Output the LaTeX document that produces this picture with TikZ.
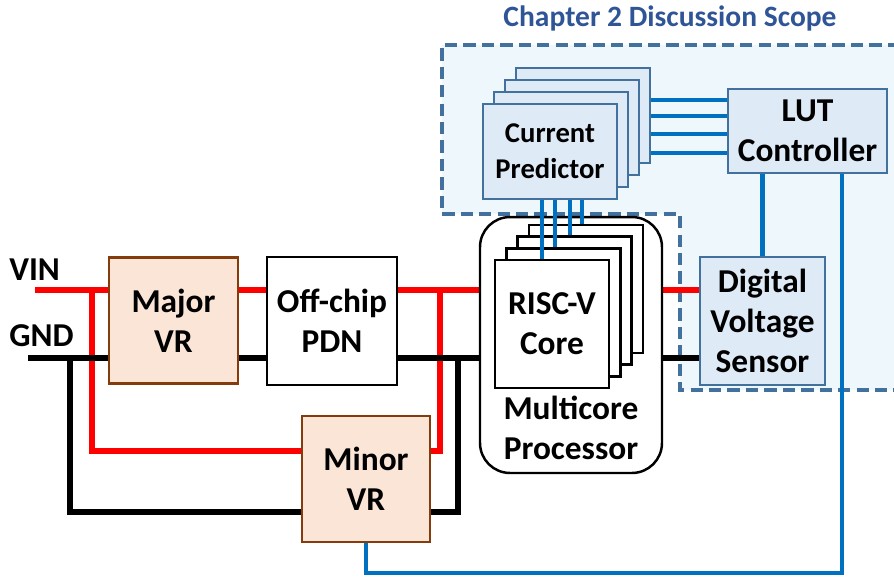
\documentclass[tikz,border=0pt]{standalone}
\usepackage{fontspec}
\setmainfont{Carlito}
\usetikzlibrary{positioning, calc}
\definecolor{vinred}{HTML}{FF0000}
\definecolor{sigblue}{HTML}{0070C0}
\definecolor{vrfill}{HTML}{FBE5D6}
\definecolor{vrbrown}{HTML}{843C0C}
\definecolor{ctlfill}{HTML}{DEEBF7}
\definecolor{ctledge}{HTML}{41719C}
\definecolor{zonefill}{HTML}{EEF7FC}
\definecolor{titleblue}{HTML}{2F5597}
\pgfdeclarelayer{zone}
\pgfdeclarelayer{wires}
\pgfsetlayers{zone,wires,main}

\begin{document}
\begin{tikzpicture}[x=0.02cm, y=-0.02cm,
    lbl/.style={font=\bfseries\fontsize{19}{22.8}\selectfont, align=center, inner sep=0pt},
    vrbox/.style={lbl, rectangle, draw=vrbrown, fill=vrfill, line width=1.4pt,
                  minimum width=2.58cm, minimum height=2.52cm},
    pdnbox/.style={lbl, rectangle, draw=black, fill=white, line width=1.4pt,
                   minimum width=2.6cm, minimum height=2.56cm},
    corebox/.style={pdnbox, minimum width=2.28cm},
    ctlbox/.style={lbl, rectangle, draw=ctledge, fill=ctlfill, line width=1.4pt},
    predbox/.style={ctlbox, minimum width=2.68cm, minimum height=1.9cm,
                    font=\bfseries\fontsize{16.3}{20.5}\selectfont},
    pwr/.style={line width=3.1pt, color=vinred},
    gndwire/.style={line width=3.1pt, color=black},
    sig/.style={line width=2.8pt, color=sigblue}
]
\useasboundingbox (0,0) rectangle (894,576);

% title and scope region
\node[font=\bfseries\fontsize{16.8}{20}\selectfont, text=titleblue] (title) at (670,18) {Chapter 2 Discussion Scope};
\begin{pgfonlayer}{zone}
\fill[zonefill] (442,45) -- (900,45) -- (900,390) -- (680,390) -- (680,214) -- (442,214) -- cycle;
\draw[ctledge, line width=2.3pt, dash pattern=on 7pt off 3.5pt]
    (900,45) -- (442,45) -- (442,214) -- (680,214) -- (680,390) -- (900,390);
\end{pgfonlayer}

% power blocks
\node[lbl, anchor=west] (vinlbl) at (9,270) {VIN};
\node[lbl, anchor=west] (gndlbl) at (9,336) {GND};
\node[vrbox] (major) at (173.5,320.5) {Major\\VR};
\node[pdnbox] (pdn) at (332,321) {Off-chip\\PDN};
\node[vrbox, minimum height=2.52cm, minimum width=2.56cm] (minor) at (366,479) {Minor\\VR};

% processor with core stack
\node[draw, fill=white, line width=1.4pt, rounded corners=0.6cm,
      minimum width=3.64cm, minimum height=5.12cm] (proc) at (571,345) {};
\foreach \k in {4,3,2}
  \node[corebox] (core\k) at ({552+11.3*(\k-1)},{324-11.7*(\k-1)}) {};
\node[corebox] (core1) at (552,324) {RISC-V\\Core};
\node[lbl] (proclbl) at (571,428) {Multicore\\Processor};

% predictor stack, controller, sensor
\foreach \k in {4,3,2}
  \node[predbox] (pred\k) at ({550+11*(\k-1)},{151.5-12*(\k-1)}) {};
\node[predbox] (pred1) at (550,151.5) {Current\\Predictor};
\node[ctlbox, minimum width=3.18cm, minimum height=1.68cm] (lut) at (807.5,131) {LUT\\Controller};
\node[ctlbox, minimum width=2.5cm, minimum height=2.56cm] (dvs) at (762.5,321) {Digital\\Voltage\\Sensor};

% wires
\coordinate (vinend) at (35,290);
\coordinate (gndend) at (28,358);
\coordinate (rtapl) at (92,290);
\coordinate (rtapr) at (440,290);
\coordinate (rloop) at (0,451);
\coordinate (btapl) at (70,358);
\coordinate (btapr) at (458,358);
\coordinate (bloop) at (0,512);
\coordinate (fb) at (842,573);
\begin{pgfonlayer}{wires}
\draw[pwr] (vinend) -- (major.west |- vinend);
\draw[pwr] (major.east |- vinend) -- (pdn.west |- vinend);
\draw[pwr] (pdn.east |- vinend) -- (proc.west |- vinend);
\draw[pwr] (proc.east |- vinend) -- (dvs.west |- vinend);
\draw[pwr] (rtapl) |- (minor.west |- rloop);
\draw[pwr] (minor.east |- rloop) -| (rtapr);
\draw[gndwire] (gndend) -- (major.west |- gndend);
\draw[gndwire] (major.east |- gndend) -- (pdn.west |- gndend);
\draw[gndwire] (pdn.east |- gndend) -- (proc.west |- gndend);
\draw[gndwire] (proc.east |- gndend) -- (dvs.west |- gndend);
\draw[gndwire] (btapl) |- (minor.west |- bloop);
\draw[gndwire] (minor.east |- bloop) -| (btapr);
\foreach \k/\yy in {4/100,3/116,2/134,1/153}
  \draw[sig] (pred\k.east |- 0,\yy) -- (lut.west |- 0,\yy);
\draw[sig] (lut.south -| dvs.north) -- (dvs.north);
\draw[sig] (minor.south) |- (fb) -- (lut.south -| fb);
\end{pgfonlayer}
\foreach \k/\xx in {1/542,2/555,3/570,4/582}
  \draw[sig] (pred1.south -| \xx,0) -- (core\k.north -| \xx,0);
\end{tikzpicture}
\end{document}
